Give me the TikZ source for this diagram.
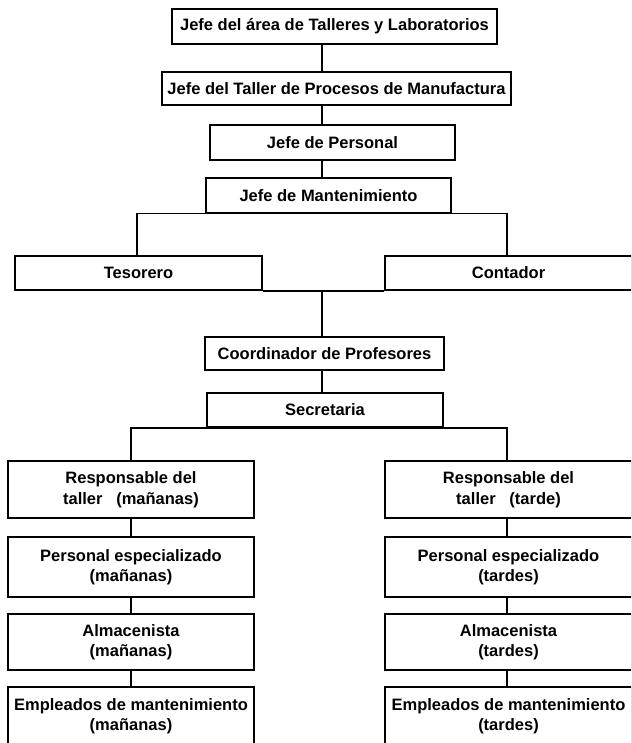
\documentclass[tikz,border=0pt]{standalone}
\usepackage{fontspec}
\setmainfont{Liberation Sans}
\begin{document}
\begin{tikzpicture}[x=1pt,y=-1pt,
  box/.style={draw, line width=1.5pt, inner sep=0pt, align=center,
    font=\bfseries\fontsize{16.5}{20.5}\selectfont},
  conn/.style={line width=1.5pt}]
\useasboundingbox (0,0) rectangle (631,743);
\clip (0,0) rectangle (631,743);
% top chain
\node[box, minimum width=325pt, minimum height=35pt] (b1) at (334.5,26.5) {Jefe del área de Talleres y Laboratorios};
\node[box, minimum width=349pt, minimum height=33pt] (b2) at (336.5,88.5) {Jefe del Taller de Procesos de Manufactura};
\node[box, minimum width=245pt, minimum height=35pt] (b3) at (332.5,142.5) {Jefe de Personal};
\node[box, minimum width=245pt, minimum height=35pt] (b4) at (328.5,195.5) {Jefe de Mantenimiento};
\node[box, minimum width=247pt, minimum height=34pt] (tes) at (138.5,273) {Tesorero};
\node[box, minimum width=247pt, minimum height=34pt] (con) at (508.5,273) {Contador};
\node[box, minimum width=239pt, minimum height=33pt] (coo) at (324.5,353.5) {Coordinador de Profesores};
\node[box, minimum width=236pt, minimum height=34pt] (sec) at (325,410) {Secretaria};
% left column
\node[box, minimum width=246pt, minimum height=57pt] (L1) at (131,489.5) {Responsable del\\taller\ \ \ (mañanas)};
\node[box, minimum width=246pt, minimum height=60pt] (L2) at (131,567) {Personal especializado\\(mañanas)};
\node[box, minimum width=246pt, minimum height=56pt] (L3) at (131,642) {Almacenista\\(mañanas)};
\node[box, minimum width=246pt, minimum height=58pt] (L4) at (131,716) {Empleados de mantenimiento\\(mañanas)};
% right column
\node[box, minimum width=247pt, minimum height=57pt] (R1) at (508.5,489.5) {Responsable del\\taller\ \ \ (tarde)};
\node[box, minimum width=247pt, minimum height=60pt] (R2) at (508.5,567) {Personal especializado\\(tardes)};
\node[box, minimum width=247pt, minimum height=56pt] (R3) at (508.5,642) {Almacenista\\(tardes)};
\node[box, minimum width=247pt, minimum height=58pt] (R4) at (508.5,716) {Empleados de mantenimiento\\(tardes)};
% connectors
\coordinate (sp) at (322,0);
\coordinate (tl) at (137,0);
\coordinate (tr) at (507,0);
\draw[conn] (b1.south -| sp) -- (b2.north -| sp);
\draw[conn] (b2.south -| sp) -- (b3.north -| sp);
\draw[conn] (b3.south -| sp) -- (b4.north -| sp);
\draw[conn] (tes.north -| tl) |- (b4.south);
\draw[conn] (con.north -| tr) |- (b4.south);
\draw[conn] (tes.south east) -- (con.south west);
\draw[conn] (tes.south east -| sp) -- (coo.north -| sp);
\draw[conn] (coo.south -| sp) -- (sec.north -| sp);
\draw[conn] (L1.north) |- (sec.south);
\draw[conn] (R1.north -| tr) |- (sec.south);
\draw[conn] (L1.south) -- (L2.north);
\draw[conn] (L2.south) -- (L3.north);
\draw[conn] (L3.south) -- (L4.north);
\draw[conn] (R1.south -| tr) -- (R2.north -| tr);
\draw[conn] (R2.south -| tr) -- (R3.north -| tr);
\draw[conn] (R3.south -| tr) -- (R4.north -| tr);
\end{tikzpicture}
\end{document}
